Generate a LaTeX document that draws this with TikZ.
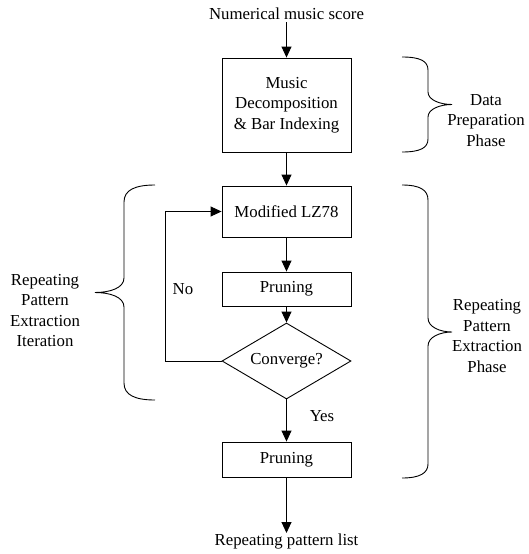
\documentclass[tikz,border=0pt]{standalone}
\usepackage{fontspec}
\setmainfont{Liberation Serif}
\usetikzlibrary{arrows.meta,shapes.geometric}
\begin{document}
\begin{tikzpicture}[x=1pt,y=-1pt,
  every node/.style={font=\fontsize{16.8}{20.5}\selectfont, align=center},
  box/.style={draw, line width=0.9pt, inner sep=0pt},
  dia/.style={draw, line width=0.9pt, diamond, inner sep=0pt, shape aspect=1.7, minimum width=129pt, minimum height=76pt},
  lbl/.style={inner sep=0pt},
  flow/.style={line width=0.9pt, -{Triangle[length=11pt,width=10pt]}},
  brc/.style={line width=0.9pt}
]
\useasboundingbox (0,0) rectangle (528,554);

\node[lbl, inner sep=2pt, anchor=south] (title) at (286.5,22) {Numerical music score};
\node[box, minimum width=129pt, minimum height=94pt] (b1) at (286.5,105) {Music\\Decomposition\\\& Bar Indexing};
\node[box, minimum width=129pt, minimum height=51pt] (b2) at (286.5,211.5) {Modified LZ78};
\node[box, minimum width=129pt, minimum height=34pt] (b3) at (286.5,289) {Pruning};
\node[dia] (d) at (286.5,361) {Converge?};
\node[box, minimum width=129pt, minimum height=35pt] (b4) at (286.5,459.5) {Pruning};
\node[lbl, inner sep=1pt, anchor=north] (out) at (286.5,533) {Repeating pattern list};

\node[lbl] (no) at (183,289) {No};
\node[lbl] (yes) at (322,416) {Yes};

\coordinate (loopc) at (165,361);

\draw[flow] (title) -- (b1);
\draw[flow] (b1) -- (b2);
\draw[flow] (b2) -- (b3);
\draw[flow] (b3) -- (d);
\draw[flow] (d) -- (b4);
\draw[flow] (b4) -- (out);
\draw[flow] (d.west) -- (loopc) |- (b2.west);

% left brace
\draw[brc] (155,185) .. controls (135,185) and (124,190) .. (124,202) -- (124,278)
  .. controls (124,288) and (110,292.5) .. (95,292.5)
  .. controls (110,292.5) and (124,297) .. (124,307) -- (124,383)
  .. controls (124,395) and (135,400) .. (155,400);
\node[lbl] (lt) at (45,310.5) {Repeating\\Pattern\\Extraction\\Iteration};

% right brace 1
\draw[brc] (402,57) .. controls (420,57) and (428,61) .. (428,70) -- (428,92)
  .. controls (428,100) and (440,104.5) .. (452,104.5)
  .. controls (440,104.5) and (428,109) .. (428,117) -- (428,139)
  .. controls (428,148) and (420,152) .. (402,152);
\node[lbl] (rt1) at (486,120.5) {Data\\Preparation\\Phase};

% right brace 2
\draw[brc] (402,185) .. controls (420,185) and (428,190) .. (428,200) -- (428,318)
  .. controls (428,327) and (440,332) .. (452,332)
  .. controls (440,332) and (428,337) .. (428,346) -- (428,464)
  .. controls (428,473) and (420,478) .. (402,478);
\node[lbl] (rt2) at (487,336) {Repeating\\Pattern\\Extraction\\Phase};
\end{tikzpicture}
\end{document}
